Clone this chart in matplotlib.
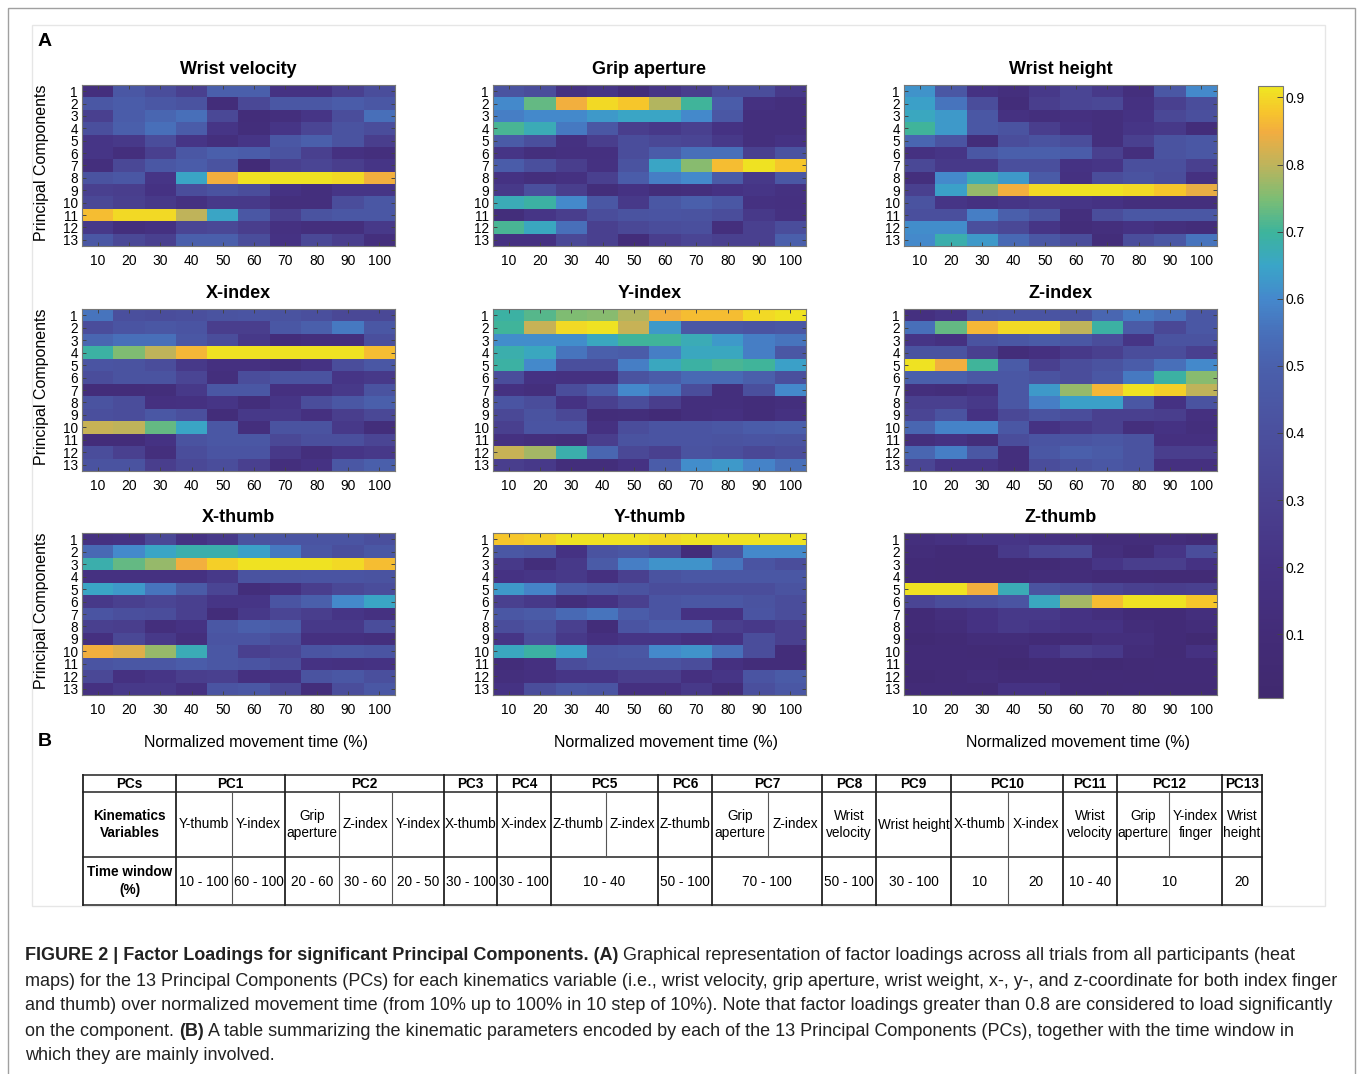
import numpy as np
import matplotlib
matplotlib.use('Agg')
import matplotlib.pyplot as plt
from matplotlib.colors import LinearSegmentedColormap
from matplotlib.patches import Rectangle

plt.rcParams['font.family'] = ['Liberation Sans', 'DejaVu Sans']

# ---------------- data ----------------
time_pct = [10, 20, 30, 40, 50, 60, 70, 80, 90, 100]
pcs = list(range(1, 14))
titles = ["Wrist velocity", "Grip aperture", "Wrist height",
          "X-index", "Y-index", "Z-index",
          "X-thumb", "Y-thumb", "Z-thumb"]

wrist_velocity = [
    [0.15, 0.45, 0.38, 0.30, 0.50, 0.50, 0.20, 0.20, 0.30, 0.38],
    [0.45, 0.48, 0.45, 0.42, 0.12, 0.35, 0.45, 0.45, 0.48, 0.45],
    [0.30, 0.48, 0.52, 0.55, 0.35, 0.12, 0.15, 0.22, 0.38, 0.55],
    [0.40, 0.50, 0.55, 0.48, 0.22, 0.13, 0.22, 0.33, 0.42, 0.38],
    [0.22, 0.25, 0.38, 0.22, 0.15, 0.22, 0.45, 0.50, 0.42, 0.28],
    [0.22, 0.15, 0.30, 0.45, 0.50, 0.48, 0.42, 0.30, 0.18, 0.15],
    [0.15, 0.35, 0.45, 0.48, 0.42, 0.10, 0.30, 0.33, 0.28, 0.22],
    [0.42, 0.45, 0.22, 0.65, 0.85, 0.91, 0.91, 0.91, 0.90, 0.85],
    [0.30, 0.28, 0.20, 0.38, 0.42, 0.38, 0.20, 0.15, 0.22, 0.22],
    [0.35, 0.30, 0.25, 0.18, 0.25, 0.25, 0.15, 0.15, 0.38, 0.45],
    [0.87, 0.90, 0.90, 0.80, 0.65, 0.45, 0.30, 0.42, 0.45, 0.45],
    [0.25, 0.15, 0.18, 0.33, 0.35, 0.28, 0.18, 0.15, 0.15, 0.25],
    [0.45, 0.35, 0.30, 0.50, 0.50, 0.38, 0.20, 0.35, 0.28, 0.15],
]
grip_aperture = [
    [0.42, 0.38, 0.18, 0.22, 0.12, 0.22, 0.28, 0.38, 0.38, 0.25],
    [0.60, 0.73, 0.85, 0.90, 0.88, 0.79, 0.70, 0.48, 0.18, 0.15],
    [0.58, 0.60, 0.60, 0.63, 0.65, 0.65, 0.60, 0.45, 0.15, 0.15],
    [0.71, 0.67, 0.57, 0.45, 0.28, 0.25, 0.30, 0.20, 0.15, 0.15],
    [0.47, 0.40, 0.18, 0.28, 0.38, 0.35, 0.33, 0.25, 0.15, 0.20],
    [0.22, 0.15, 0.17, 0.17, 0.38, 0.48, 0.55, 0.55, 0.30, 0.42],
    [0.48, 0.40, 0.28, 0.18, 0.42, 0.65, 0.76, 0.87, 0.91, 0.88],
    [0.20, 0.15, 0.18, 0.30, 0.48, 0.58, 0.60, 0.47, 0.25, 0.45],
    [0.25, 0.40, 0.28, 0.13, 0.20, 0.13, 0.15, 0.20, 0.22, 0.18],
    [0.67, 0.69, 0.60, 0.45, 0.25, 0.45, 0.50, 0.45, 0.18, 0.17],
    [0.13, 0.22, 0.28, 0.38, 0.42, 0.43, 0.42, 0.38, 0.25, 0.18],
    [0.71, 0.66, 0.55, 0.30, 0.35, 0.38, 0.40, 0.15, 0.30, 0.38],
    [0.18, 0.18, 0.35, 0.30, 0.12, 0.28, 0.33, 0.30, 0.30, 0.50],
]
wrist_height = [
    [0.62, 0.45, 0.20, 0.15, 0.25, 0.33, 0.25, 0.15, 0.45, 0.60],
    [0.64, 0.56, 0.38, 0.12, 0.28, 0.33, 0.35, 0.18, 0.30, 0.38],
    [0.66, 0.63, 0.45, 0.18, 0.15, 0.17, 0.15, 0.20, 0.35, 0.40],
    [0.70, 0.63, 0.45, 0.42, 0.28, 0.20, 0.15, 0.22, 0.25, 0.12],
    [0.52, 0.43, 0.12, 0.38, 0.42, 0.38, 0.15, 0.30, 0.42, 0.45],
    [0.18, 0.22, 0.45, 0.50, 0.50, 0.48, 0.30, 0.15, 0.42, 0.45],
    [0.35, 0.25, 0.25, 0.40, 0.40, 0.20, 0.22, 0.40, 0.40, 0.30],
    [0.15, 0.60, 0.67, 0.63, 0.47, 0.18, 0.38, 0.42, 0.38, 0.18],
    [0.30, 0.64, 0.77, 0.85, 0.90, 0.91, 0.91, 0.90, 0.88, 0.84],
    [0.42, 0.22, 0.18, 0.22, 0.25, 0.22, 0.20, 0.15, 0.15, 0.15],
    [0.40, 0.40, 0.58, 0.50, 0.42, 0.15, 0.38, 0.45, 0.45, 0.45],
    [0.61, 0.61, 0.40, 0.35, 0.22, 0.12, 0.15, 0.20, 0.15, 0.12],
    [0.60, 0.68, 0.63, 0.53, 0.45, 0.38, 0.12, 0.38, 0.45, 0.56],
]
x_index = [
    [0.56, 0.40, 0.38, 0.40, 0.42, 0.43, 0.42, 0.40, 0.35, 0.35],
    [0.38, 0.43, 0.45, 0.43, 0.28, 0.28, 0.45, 0.50, 0.57, 0.45],
    [0.52, 0.55, 0.55, 0.45, 0.38, 0.25, 0.12, 0.15, 0.15, 0.40],
    [0.69, 0.75, 0.80, 0.86, 0.91, 0.91, 0.91, 0.91, 0.91, 0.87],
    [0.43, 0.42, 0.38, 0.25, 0.17, 0.17, 0.13, 0.20, 0.38, 0.45],
    [0.38, 0.42, 0.42, 0.33, 0.15, 0.38, 0.42, 0.42, 0.22, 0.25],
    [0.12, 0.12, 0.13, 0.25, 0.45, 0.45, 0.17, 0.17, 0.25, 0.42],
    [0.42, 0.38, 0.17, 0.18, 0.22, 0.13, 0.22, 0.38, 0.45, 0.50],
    [0.40, 0.38, 0.45, 0.40, 0.12, 0.25, 0.25, 0.17, 0.28, 0.35],
    [0.81, 0.80, 0.73, 0.65, 0.45, 0.15, 0.42, 0.42, 0.25, 0.13],
    [0.12, 0.12, 0.20, 0.42, 0.45, 0.45, 0.35, 0.40, 0.40, 0.33],
    [0.38, 0.30, 0.15, 0.38, 0.43, 0.43, 0.25, 0.15, 0.22, 0.25],
    [0.42, 0.42, 0.28, 0.35, 0.38, 0.30, 0.15, 0.20, 0.45, 0.50],
]
y_index = [
    [0.69, 0.72, 0.75, 0.76, 0.79, 0.85, 0.87, 0.87, 0.90, 0.91],
    [0.70, 0.81, 0.90, 0.91, 0.81, 0.63, 0.45, 0.45, 0.43, 0.45],
    [0.61, 0.61, 0.61, 0.66, 0.70, 0.70, 0.67, 0.63, 0.58, 0.56],
    [0.68, 0.66, 0.56, 0.50, 0.48, 0.58, 0.66, 0.66, 0.58, 0.45],
    [0.69, 0.60, 0.40, 0.40, 0.58, 0.66, 0.69, 0.71, 0.70, 0.64],
    [0.38, 0.20, 0.18, 0.18, 0.42, 0.48, 0.53, 0.53, 0.50, 0.40],
    [0.18, 0.15, 0.38, 0.48, 0.60, 0.56, 0.38, 0.15, 0.40, 0.60],
    [0.43, 0.38, 0.20, 0.30, 0.38, 0.28, 0.15, 0.15, 0.12, 0.15],
    [0.35, 0.42, 0.35, 0.12, 0.13, 0.10, 0.15, 0.17, 0.12, 0.18],
    [0.30, 0.43, 0.43, 0.18, 0.38, 0.43, 0.43, 0.45, 0.48, 0.50],
    [0.18, 0.15, 0.13, 0.28, 0.42, 0.43, 0.43, 0.42, 0.43, 0.42],
    [0.81, 0.78, 0.68, 0.52, 0.35, 0.30, 0.42, 0.40, 0.35, 0.38],
    [0.28, 0.25, 0.13, 0.13, 0.20, 0.48, 0.61, 0.63, 0.59, 0.55],
]
z_index = [
    [0.17, 0.22, 0.42, 0.43, 0.43, 0.42, 0.52, 0.57, 0.55, 0.45],
    [0.55, 0.73, 0.86, 0.90, 0.90, 0.80, 0.69, 0.47, 0.35, 0.45],
    [0.22, 0.18, 0.42, 0.45, 0.47, 0.45, 0.38, 0.22, 0.42, 0.42],
    [0.42, 0.42, 0.30, 0.12, 0.17, 0.25, 0.30, 0.38, 0.38, 0.30],
    [0.91, 0.85, 0.70, 0.47, 0.30, 0.38, 0.42, 0.48, 0.55, 0.60],
    [0.50, 0.50, 0.45, 0.45, 0.42, 0.38, 0.45, 0.57, 0.69, 0.76],
    [0.15, 0.13, 0.18, 0.45, 0.63, 0.77, 0.86, 0.91, 0.89, 0.80],
    [0.30, 0.30, 0.25, 0.45, 0.58, 0.64, 0.64, 0.45, 0.20, 0.42],
    [0.33, 0.42, 0.20, 0.35, 0.42, 0.38, 0.30, 0.30, 0.28, 0.17],
    [0.52, 0.59, 0.59, 0.45, 0.20, 0.25, 0.30, 0.15, 0.20, 0.15],
    [0.15, 0.20, 0.13, 0.38, 0.43, 0.43, 0.45, 0.42, 0.17, 0.17],
    [0.52, 0.58, 0.45, 0.15, 0.45, 0.50, 0.47, 0.42, 0.28, 0.28],
    [0.33, 0.22, 0.22, 0.15, 0.38, 0.42, 0.45, 0.42, 0.17, 0.17],
]
x_thumb = [
    [0.18, 0.20, 0.35, 0.20, 0.25, 0.42, 0.43, 0.43, 0.43, 0.40],
    [0.53, 0.60, 0.65, 0.68, 0.68, 0.64, 0.57, 0.45, 0.40, 0.45],
    [0.68, 0.73, 0.77, 0.85, 0.89, 0.91, 0.91, 0.91, 0.90, 0.87],
    [0.18, 0.18, 0.18, 0.18, 0.25, 0.42, 0.42, 0.43, 0.43, 0.42],
    [0.65, 0.63, 0.56, 0.47, 0.33, 0.13, 0.18, 0.28, 0.35, 0.38],
    [0.25, 0.30, 0.33, 0.30, 0.22, 0.22, 0.43, 0.50, 0.60, 0.65],
    [0.43, 0.40, 0.38, 0.30, 0.12, 0.25, 0.33, 0.28, 0.22, 0.18],
    [0.30, 0.28, 0.15, 0.20, 0.45, 0.50, 0.47, 0.25, 0.25, 0.38],
    [0.17, 0.35, 0.25, 0.15, 0.43, 0.43, 0.38, 0.17, 0.17, 0.15],
    [0.85, 0.83, 0.77, 0.67, 0.45, 0.30, 0.33, 0.43, 0.45, 0.43],
    [0.43, 0.45, 0.45, 0.48, 0.45, 0.43, 0.38, 0.20, 0.18, 0.20],
    [0.35, 0.18, 0.22, 0.28, 0.30, 0.17, 0.20, 0.42, 0.45, 0.40],
    [0.18, 0.25, 0.25, 0.18, 0.43, 0.45, 0.35, 0.13, 0.38, 0.45],
]
y_thumb = [
    [0.88, 0.89, 0.91, 0.91, 0.91, 0.90, 0.91, 0.91, 0.91, 0.91],
    [0.45, 0.42, 0.20, 0.42, 0.45, 0.38, 0.12, 0.42, 0.60, 0.60],
    [0.25, 0.13, 0.25, 0.47, 0.58, 0.62, 0.62, 0.56, 0.43, 0.38],
    [0.20, 0.22, 0.25, 0.17, 0.30, 0.42, 0.45, 0.45, 0.45, 0.45],
    [0.63, 0.59, 0.48, 0.45, 0.42, 0.38, 0.38, 0.38, 0.38, 0.42],
    [0.30, 0.25, 0.13, 0.20, 0.30, 0.43, 0.45, 0.45, 0.42, 0.38],
    [0.45, 0.47, 0.53, 0.56, 0.48, 0.43, 0.20, 0.20, 0.43, 0.38],
    [0.38, 0.42, 0.30, 0.12, 0.43, 0.48, 0.48, 0.28, 0.25, 0.30],
    [0.22, 0.38, 0.25, 0.17, 0.22, 0.22, 0.17, 0.20, 0.38, 0.30],
    [0.66, 0.69, 0.64, 0.43, 0.45, 0.60, 0.62, 0.55, 0.38, 0.12],
    [0.12, 0.17, 0.38, 0.42, 0.42, 0.42, 0.38, 0.17, 0.12, 0.12],
    [0.15, 0.17, 0.22, 0.22, 0.28, 0.28, 0.17, 0.22, 0.43, 0.47],
    [0.20, 0.38, 0.45, 0.43, 0.17, 0.17, 0.25, 0.12, 0.40, 0.45],
]
z_thumb = [
    [0.15, 0.18, 0.22, 0.22, 0.18, 0.15, 0.12, 0.12, 0.12, 0.10],
    [0.12, 0.10, 0.10, 0.25, 0.33, 0.35, 0.15, 0.10, 0.22, 0.38],
    [0.10, 0.08, 0.08, 0.08, 0.08, 0.12, 0.22, 0.28, 0.28, 0.20],
    [0.10, 0.08, 0.08, 0.08, 0.12, 0.12, 0.10, 0.10, 0.08, 0.08],
    [0.91, 0.91, 0.85, 0.67, 0.42, 0.38, 0.33, 0.30, 0.28, 0.30],
    [0.33, 0.38, 0.40, 0.43, 0.66, 0.78, 0.87, 0.91, 0.91, 0.88],
    [0.10, 0.15, 0.20, 0.25, 0.25, 0.20, 0.15, 0.10, 0.10, 0.15],
    [0.10, 0.12, 0.20, 0.25, 0.22, 0.20, 0.20, 0.12, 0.10, 0.12],
    [0.06, 0.08, 0.12, 0.12, 0.10, 0.10, 0.15, 0.15, 0.10, 0.05],
    [0.10, 0.10, 0.08, 0.10, 0.20, 0.28, 0.25, 0.12, 0.08, 0.18],
    [0.10, 0.10, 0.10, 0.05, 0.08, 0.08, 0.06, 0.08, 0.10, 0.10],
    [0.06, 0.08, 0.12, 0.10, 0.10, 0.08, 0.10, 0.08, 0.10, 0.10],
    [0.10, 0.10, 0.08, 0.20, 0.20, 0.10, 0.08, 0.10, 0.08, 0.08],
]
loadings = [wrist_velocity, grip_aperture, wrist_height,
            x_index, y_index, z_index,
            x_thumb, y_thumb, z_thumb]

cbar_ticks = [0.1, 0.2, 0.3, 0.4, 0.5, 0.6, 0.7, 0.8, 0.9]

# table contents
pc_groups = ["PC1", "PC2", "PC3", "PC4", "PC5", "PC6", "PC7",
             "PC8", "PC9", "PC10", "PC11", "PC12", "PC13"]
pc_group_spans = [2, 3, 1, 1, 2, 1, 2, 1, 1, 2, 1, 2, 1]
kin_vars = ["Y-thumb", "Y-index", "Grip\naperture", "Z-index", "Y-index",
            "X-thumb", "X-index", "Z-thumb", "Z-index", "Z-thumb",
            "Grip\naperture", "Z-index", "Wrist\nvelocity", "Wrist height",
            "X-thumb", "X-index", "Wrist\nvelocity", "Grip\naperture",
            "Y-index\nfinger", "Wrist\nheight"]
time_windows = ["10 - 100", "60 - 100", "20 - 60", "30 - 60", "20 - 50",
                "30 - 100", "30 - 100", "10 - 40", "50 - 100", "70 - 100",
                "50 - 100", "30 - 100", "10", "20", "10 - 40", "10", "20"]
time_window_spans = [1, 1, 1, 1, 1, 1, 1, 2, 1, 2, 1, 1, 1, 1, 1, 2, 1]

caption_lines = [
    [("FIGURE 2 | Factor Loadings for significant Principal Components. (A)", "bold"),
     (" Graphical representation of factor loadings across all trials from all participants (heat", "normal")],
    [("maps) for the 13 Principal Components (PCs) for each kinematics variable (i.e., wrist velocity, grip aperture, wrist weight, x-, y-, and z-coordinate for both index finger", "normal")],
    [("and thumb) over normalized movement time (from 10% up to 100% in 10 step of 10%). Note that factor loadings greater than 0.8 are considered to load significantly", "normal")],
    [("on the component. ", "normal"), ("(B)", "bold"),
     (" A table summarizing the kinematic parameters encoded by each of the 13 Principal Components (PCs), together with the time window in", "normal")],
    [("which they are mainly involved.", "normal")],
]

# ---------------- colormap (faded parula) ----------------
VMIN, VMAX = 0.005, 0.917
cm_vals = [0.005, 0.1, 0.2, 0.3, 0.4, 0.5, 0.55, 0.6, 0.65, 0.7, 0.75, 0.8, 0.85, 0.88, 0.917]
cm_cols = ['#40296f', '#432c78', '#463384', '#4a4190', '#4b509e', '#4a60ac',
           '#4870ba', '#4588cc', '#3aa5c8', '#3db49c', '#7cbd74', '#bdb45c',
           '#f2ad40', '#f7c52c', '#efe622']
cmap = LinearSegmentedColormap.from_list(
    'parula_faded', [((v - VMIN) / (VMAX - VMIN), c) for v, c in zip(cm_vals, cm_cols)])

# ---------------- figure ----------------
W, H = 1357, 1074
fig = plt.figure(figsize=(W / 100, H / 100), dpi=100)
bg = fig.add_axes([0, 0, 1, 1])
bg.set_xlim(0, W)
bg.set_ylim(H, 0)
bg.axis('off')


def px_axes(x0, y0, x1, y1):
    return fig.add_axes([x0 / W, 1 - y1 / H, (x1 - x0) / W, (y1 - y0) / H])


# frames
bg.add_patch(Rectangle((8, 8), 1347, 1100, fill=False, ec='#a0a0a0', lw=1.0))
bg.add_patch(Rectangle((32, 25), 1293, 881, fill=False, ec='#e6e6e6', lw=1.0))

bg.text(45, 42, "A", fontsize=14, fontweight='bold', ha='center', va='center')
bg.text(45, 742, "B", fontsize=14, fontweight='bold', ha='center', va='center')

col_x = [(82, 395), (493, 806), (904, 1217)]
row_y = [(85, 246), (309, 471), (533, 695)]

im = None
for i, (title, data) in enumerate(zip(titles, loadings)):
    r, c = divmod(i, 3)
    x0, x1 = col_x[c]
    y0, y1 = row_y[r]
    ax = px_axes(x0, y0, x1, y1)
    arr = np.array(data)
    im = ax.imshow(arr, cmap=cmap, vmin=VMIN, vmax=VMAX, aspect='auto',
                   interpolation='nearest',
                   extent=(time_pct[0] - 5, time_pct[-1] + 5, pcs[-1] + 0.5, pcs[0] - 0.5))
    ax.set_xticks(time_pct)
    ax.set_yticks(pcs)
    ax.tick_params(direction='in', length=3, width=0.7, color='#444444',
                   top=True, right=True, labelsize=10, pad=6)
    ax.tick_params(axis='y', pad=3, labelsize=9.8)
    for s in ax.spines.values():
        s.set_color('#777777')
        s.set_linewidth(0.8)
    ax.set_title(title, fontsize=13, fontweight='bold', pad=8)
    if c == 0:
        bg.text(42, (y0 + y1) / 2 - 3, "Principal Components", rotation=90,
                fontsize=11.5, ha='center', va='center')
    if r == 2:
        bg.text((x0 + x1) / 2 + 17, 742, "Normalized movement time (%)",
                fontsize=11.5, ha='center', va='center')

cax = px_axes(1258, 86, 1283, 698)
cb = fig.colorbar(im, cax=cax, ticks=cbar_ticks)
cb.ax.tick_params(labelsize=10, direction='in', length=4, width=0.7, color='#444444', pad=2)
cb.ax.set_yticklabels([f"{t:.1f}" for t in cbar_ticks])
cb.outline.set_edgecolor('#777777')
cb.outline.set_linewidth(0.8)

# ---------------- table ----------------
edges = [83, 176, 232, 285, 339, 392, 444, 497, 551, 606, 658, 712, 768,
         822, 876, 951, 1008, 1063, 1117, 1169, 1222, 1262]
ty = [775, 792, 857, 905]
tfs = 9.8
lc = '#222222'
for yy in ty:
    bg.plot([edges[0], edges[-1]], [yy, yy], color=lc, lw=1.1)
bg.plot([edges[0], edges[0]], [ty[0], ty[-1]], color=lc, lw=1.3)
bg.plot([edges[1], edges[1]], [ty[0], ty[-1]], color=lc, lw=1.3)

bg.text((edges[0] + edges[1]) / 2, (ty[0] + ty[1]) / 2 + 1, "PCs", fontsize=tfs,
        fontweight='bold', ha='center', va='center')
bg.text((edges[0] + edges[1]) / 2, (ty[1] + ty[2]) / 2, "Kinematics\nVariables",
        fontsize=tfs, fontweight='bold', ha='center', va='center', linespacing=1.35)
bg.text((edges[0] + edges[1]) / 2, (ty[2] + ty[3]) / 2, "Time window\n(%)",
        fontsize=tfs, fontweight='bold', ha='center', va='center', linespacing=1.35)

# group headers
k = 1
group_edges = set()
for name, span in zip(pc_groups, pc_group_spans):
    xa, xb = edges[k], edges[k + span]
    bg.text((xa + xb) / 2, (ty[0] + ty[1]) / 2 + 1, name, fontsize=tfs,
            fontweight='bold', ha='center', va='center')
    bg.plot([xb, xb], [ty[0], ty[-1]], color=lc, lw=1.3)
    group_edges.add(k + span)
    k += span

# kinematic variables
for j, name in enumerate(kin_vars):
    xa, xb = edges[j + 1], edges[j + 2]
    bg.text((xa + xb) / 2, (ty[1] + ty[2]) / 2, name, fontsize=tfs,
            ha='center', va='center', linespacing=1.35)
    if (j + 2) not in group_edges:
        bg.plot([xb, xb], [ty[1], ty[2]], color='#555555', lw=0.8)

# time windows
k = 1
for name, span in zip(time_windows, time_window_spans):
    xa, xb = edges[k], edges[k + span]
    bg.text((xa + xb) / 2, (ty[2] + ty[3]) / 2 + 1, name, fontsize=tfs,
            ha='center', va='center')
    if (k + span) not in group_edges:
        bg.plot([xb, xb], [ty[2], ty[3]], color='#555555', lw=0.8)
    k += span

# ---------------- caption ----------------
renderer = fig.canvas.get_renderer()
cap_y = [956, 981, 1006, 1031, 1056]
for yy, runs in zip(cap_y, caption_lines):
    x = 25
    for txt, wt in runs:
        t = bg.text(x, yy, txt, fontsize=13.0, fontweight=wt, ha='left',
                    va='center', color='#222222')
        bb = t.get_window_extent(renderer=renderer)
        x += bb.width

fig.savefig('out.png', dpi=100)
